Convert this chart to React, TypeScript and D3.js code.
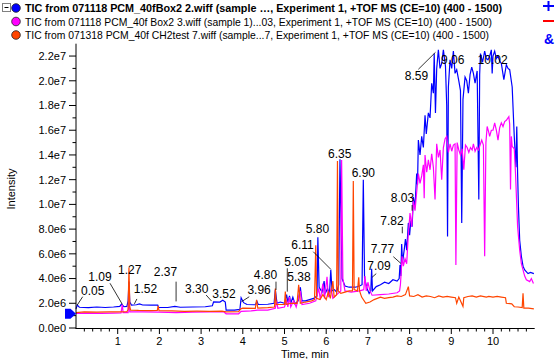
import { useMemo } from "react";
import * as d3 from "d3";

// values are in millions of counts, times in minutes
const UNIT = 1e6;

const blueTIC: [number, number][] = [
  [0.0, 1.55], [0.03, 1.85], [0.08, 1.68], [0.3, 1.65], [0.5, 1.7], [0.7, 1.66], [0.9, 1.7], [1.05, 1.75],
  [1.09, 1.92], [1.15, 1.72], [1.22, 1.75], [1.25, 2.2], [1.27, 3.75], [1.29, 2.1], [1.33, 1.85], [1.45, 1.88],
  [1.52, 1.95], [1.6, 1.86], [1.8, 1.85], [1.96, 1.86], [1.98, 1.66], [2.2, 1.66], [2.37, 1.75], [2.5, 1.68],
  [2.8, 1.7], [3.1, 1.72], [3.27, 1.8], [3.3, 2.12], [3.45, 2.1], [3.52, 2.25], [3.58, 2.1], [3.6, 1.45],
  [3.8, 1.44], [3.93, 1.5], [3.96, 2.45], [4.02, 2.05], [4.1, 1.9], [4.3, 1.88], [4.34, 2.15], [4.37, 1.9],
  [4.6, 1.92], [4.75, 2.0], [4.78, 3.1], [4.82, 2.0], [4.9, 2.1], [5.0, 2.0], [5.05, 2.7], [5.08, 2.1],
  [5.12, 2.6], [5.15, 2.0], [5.2, 2.5], [5.25, 1.95], [5.33, 2.2], [5.38, 3.3], [5.42, 2.2], [5.5, 2.2],
  [5.6, 2.3], [5.7, 2.4], [5.78, 2.6], [5.8, 7.35], [5.83, 3.3], [5.9, 2.9], [5.95, 3.8], [5.98, 2.8],
  [6.03, 3.2], [6.08, 2.8], [6.11, 4.7], [6.14, 3.0], [6.2, 3.1], [6.25, 2.9], [6.3, 3.5], [6.33, 13.65],
  [6.36, 8.0], [6.38, 4.0], [6.45, 3.4], [6.55, 3.3], [6.7, 3.3], [6.8, 3.4], [6.86, 3.5], [6.89, 12.0],
  [6.92, 4.0], [6.98, 3.2], [7.03, 2.8], [7.07, 3.0], [7.09, 4.8], [7.11, 3.0], [7.2, 3.35], [7.3, 3.5],
  [7.4, 3.7], [7.5, 3.6], [7.6, 3.9], [7.7, 3.8], [7.75, 4.0], [7.77, 5.1], [7.79, 4.2], [7.81, 6.8],
  [7.83, 5.3], [7.87, 6.3], [7.9, 7.2], [7.93, 6.3], [7.97, 8.5], [8.0, 7.5], [8.03, 8.7], [8.06, 8.2],
  [8.09, 10.6], [8.13, 9.8], [8.17, 12.5], [8.19, 11.6], [8.21, 15.2], [8.25, 14.0], [8.29, 15.5], [8.33, 14.6],
  [8.37, 17.2], [8.4, 15.7], [8.45, 17.4], [8.49, 17.0], [8.53, 19.8], [8.57, 19.0], [8.59, 22.2], [8.62, 17.4],
  [8.65, 21.0], [8.69, 22.5], [8.73, 21.0], [8.77, 21.4], [8.81, 22.5], [8.86, 21.2], [8.89, 18.0], [8.91, 7.4],
  [8.93, 19.5], [8.97, 21.7], [9.01, 21.0], [9.05, 22.4], [9.09, 20.6], [9.13, 20.9], [9.18, 20.0], [9.22, 19.2],
  [9.25, 8.5], [9.28, 18.5], [9.33, 20.3], [9.37, 20.0], [9.41, 19.0], [9.45, 20.5], [9.49, 21.1], [9.53, 20.6],
  [9.57, 19.8], [9.62, 20.8], [9.66, 10.4], [9.68, 20.5], [9.7, 22.2], [9.75, 21.5], [9.8, 22.4], [9.84, 21.8],
  [9.88, 21.7], [9.92, 22.0], [9.96, 22.5], [9.98, 20.6], [10.0, 22.0], [10.04, 22.4], [10.08, 21.8], [10.12, 22.0],
  [10.16, 21.6], [10.2, 21.4], [10.26, 20.1], [10.32, 21.3], [10.36, 21.0], [10.4, 20.9], [10.46, 19.5], [10.51, 15.5],
  [10.55, 13.0], [10.57, 16.3], [10.59, 12.5], [10.61, 9.8], [10.64, 7.1], [10.68, 5.8], [10.72, 5.0], [10.76, 4.7],
  [10.84, 4.4], [10.9, 4.5], [10.98, 4.4],
];

const magentaTIC: [number, number][] = [
  [0.0, 1.18], [0.3, 1.2], [0.6, 1.18], [0.9, 1.2], [1.08, 1.22], [1.11, 1.9], [1.13, 1.25], [1.25, 1.25],
  [1.27, 2.5], [1.29, 1.3], [1.6, 1.3], [2.0, 1.28], [2.4, 1.25], [2.8, 1.28], [3.2, 1.3], [3.55, 1.3],
  [3.6, 1.15], [3.9, 1.15], [3.96, 1.35], [4.2, 1.38], [4.35, 1.45], [4.6, 1.45], [4.78, 1.6], [4.81, 2.2],
  [4.84, 1.6], [5.0, 1.7], [5.05, 2.3], [5.08, 1.7], [5.12, 2.5], [5.15, 1.7], [5.22, 2.2], [5.28, 1.7],
  [5.38, 3.0], [5.42, 1.9], [5.6, 2.0], [5.75, 2.2], [5.82, 3.2], [5.86, 2.3], [5.92, 3.6], [5.96, 2.4],
  [6.02, 4.15], [6.05, 2.5], [6.12, 3.2], [6.16, 2.4], [6.22, 2.6], [6.35, 3.0], [6.37, 13.6], [6.4, 4.0],
  [6.45, 3.0], [6.6, 2.9], [6.8, 3.0], [6.9, 3.1], [6.93, 4.2], [6.96, 3.0], [7.0, 3.7], [7.05, 3.0],
  [7.1, 2.65], [7.3, 2.7], [7.5, 2.75], [7.7, 2.85], [7.76, 3.0], [7.78, 3.5], [7.8, 4.6], [7.82, 5.8],
  [7.85, 5.0], [7.89, 5.6], [7.93, 5.2], [7.97, 7.6], [8.01, 9.3], [8.05, 8.2], [8.09, 10.3], [8.13, 9.5],
  [8.17, 11.0], [8.21, 12.5], [8.25, 11.7], [8.29, 12.3], [8.33, 13.2], [8.35, 10.5], [8.37, 14.0], [8.41, 12.6],
  [8.45, 13.6], [8.49, 12.8], [8.53, 14.1], [8.57, 13.0], [8.61, 10.4], [8.65, 14.9], [8.69, 13.8], [8.73, 14.4],
  [8.77, 12.0], [8.81, 14.6], [8.85, 15.3], [8.89, 15.5], [8.93, 14.2], [8.97, 14.9], [9.01, 14.3], [9.05, 14.8],
  [9.09, 14.9], [9.11, 5.1], [9.14, 15.0], [9.18, 14.4], [9.22, 14.0], [9.26, 14.5], [9.3, 12.8], [9.34, 14.8],
  [9.38, 14.6], [9.42, 14.2], [9.46, 14.6], [9.5, 14.4], [9.53, 14.9], [9.57, 14.3], [9.61, 14.6], [9.65, 14.4],
  [9.69, 14.8], [9.73, 15.2], [9.77, 14.8], [9.8, 5.8], [9.83, 15.0], [9.86, 16.3], [9.9, 15.8], [9.92, 15.5],
  [9.96, 16.0], [10.0, 16.0], [10.04, 16.6], [10.08, 16.0], [10.12, 15.2], [10.16, 16.2], [10.2, 16.6], [10.24, 16.3],
  [10.28, 16.7], [10.32, 16.8], [10.36, 17.0], [10.38, 17.1], [10.4, 16.5], [10.42, 11.2], [10.44, 15.5], [10.46, 14.7],
  [10.51, 14.5], [10.54, 12.5], [10.59, 8.2], [10.64, 6.3], [10.68, 5.2], [10.72, 4.7], [10.76, 4.2], [10.8, 3.9],
  [10.88, 3.75], [10.92, 4.0], [10.97, 3.6],
];

const orangeTIC: [number, number][] = [
  [0.0, 1.25], [0.2, 1.3], [0.5, 1.28], [0.8, 1.3], [1.0, 1.3], [1.22, 1.32], [1.25, 1.5], [1.27, 4.9],
  [1.29, 1.7], [1.31, 1.45], [1.5, 1.42], [1.8, 1.4], [1.95, 1.42], [1.97, 1.8], [1.99, 1.4], [2.3, 1.38],
  [2.6, 1.35], [2.9, 1.36], [3.2, 1.35], [3.5, 1.36], [3.6, 1.3], [3.9, 1.32], [3.95, 1.55], [4.0, 1.6],
  [4.3, 1.58], [4.33, 2.27], [4.36, 1.6], [4.6, 1.65], [4.76, 1.7], [4.78, 3.2], [4.8, 1.9], [4.9, 1.9],
  [5.0, 1.9], [5.02, 2.95], [5.04, 1.9], [5.15, 2.0], [5.3, 2.0], [5.34, 3.5], [5.38, 2.0], [5.5, 2.1],
  [5.65, 2.2], [5.72, 2.3], [5.75, 6.7], [5.77, 2.4], [5.85, 2.3], [5.92, 2.7], [6.0, 2.3], [6.05, 2.9],
  [6.1, 2.4], [6.16, 3.8], [6.19, 2.5], [6.25, 2.7], [6.27, 13.5], [6.29, 3.0], [6.35, 2.8], [6.45, 2.9],
  [6.55, 3.0], [6.63, 3.0], [6.65, 11.9], [6.67, 3.1], [6.75, 3.0], [6.78, 4.1], [6.8, 3.0], [6.85, 2.5],
  [6.95, 2.0], [7.05, 2.1], [7.15, 2.3], [7.3, 2.5], [7.4, 2.4], [7.5, 2.45], [7.6, 2.5], [7.7, 2.6],
  [7.8, 2.55], [7.9, 2.7], [7.97, 3.35], [8.0, 2.6], [8.1, 2.55], [8.2, 2.7], [8.3, 2.5], [8.4, 2.6],
  [8.5, 2.55], [8.6, 2.45], [8.7, 2.6], [8.8, 2.5], [8.9, 2.55], [9.0, 2.5], [9.1, 2.45], [9.13, 2.0],
  [9.18, 2.5], [9.28, 1.75], [9.3, 2.45], [9.4, 2.55], [9.5, 2.6], [9.6, 2.5], [9.7, 2.6], [9.84, 2.5],
  [9.9, 2.55], [10.0, 2.5], [10.1, 2.55], [10.2, 2.5], [10.3, 2.45], [10.32, 2.0], [10.45, 1.95], [10.51, 1.72],
  [10.6, 1.7], [10.7, 1.65], [10.72, 2.8], [10.74, 1.6], [10.85, 1.6], [10.98, 1.55],
];

const seriesNames = [
  "TIC from 071118 PCM_40fBox2 2.wiff (sample …, Experiment 1, +TOF MS (CE=10) (400 - 1500)",
  "TIC from 071118 PCM_40f Box2 3.wiff (sample 1)...03, Experiment 1, +TOF MS (CE=10) (400 - 1500)",
  "TIC from 071318 PCM_40f CH2test 7.wiff (sample...7, Experiment 1, +TOF MS (CE=10) (400 - 1500)",
];
const seriesColors = ["#0000ff", "#ff00ff", "#ff4500"];
const legendWidths = [477, 467, 464];

const xTicks = [1, 2, 3, 4, 5, 6, 7, 8, 9, 10];
const yTicks = [0, 2, 4, 6, 8, 10, 12, 14, 16, 18, 20, 22];

// peak labels: text centre (t, v) and optional leader from (t, v) to (t, v)
const peakLabels: { text: string; t: number; v: number; leader?: [number, number, number, number] }[] = [
  { text: "0.05", t: 0.4, v: 2.99, leader: [0.16, 2.53, 0.03, 1.86] },
  { text: "1.09", t: 0.576, v: 4.15, leader: [0.815, 3.62, 1.11, 1.92] },
  { text: "1.27", t: 1.288, v: 4.69 },
  { text: "1.52", t: 1.667, v: 3.16, leader: [1.46, 2.35, 1.4, 1.95] },
  { text: "2.37", t: 2.146, v: 4.53, leader: [2.4, 3.75, 2.4, 2.15] },
  { text: "3.30", t: 2.894, v: 3.16, leader: [3.12, 2.67, 3.25, 2.18] },
  { text: "3.52", t: 3.55, v: 2.79 },
  { text: "3.96", t: 4.39, v: 3.07, leader: [4.155, 2.53, 3.97, 2.13] },
  { text: "4.80", t: 4.544, v: 4.29, leader: [4.796, 3.75, 4.796, 3.07] },
  { text: "5.05", t: 5.276, v: 5.36, leader: [5.067, 4.83, 5.067, 2.94] },
  { text: "5.38", t: 5.348, v: 4.15 },
  { text: "5.80", t: 5.791, v: 8.01 },
  { text: "6.11", t: 5.432, v: 6.72, leader: [5.69, 6.17, 6.11, 4.75] },
  { text: "6.35", t: 6.324, v: 14.08 },
  { text: "6.90", t: 6.89, v: 12.54 },
  { text: "7.09", t: 7.266, v: 5.06, leader: [7.1, 4.1, 7.2, 4.4] },
  { text: "7.77", t: 7.35, v: 6.43, leader: [7.61, 5.77, 7.79, 5.23] },
  { text: "7.82", t: 7.578, v: 8.66, leader: [7.825, 8.2, 7.825, 7.66] },
  { text: "8.03", t: 7.83, v: 10.52, leader: [8.06, 9.95, 8.06, 9.49] },
  { text: "8.59", t: 8.165, v: 20.39, leader: [8.21, 20.93, 8.62, 22.3] },
  { text: "9.06", t: 9.036, v: 21.68 },
  { text: "10.02", t: 9.99, v: 21.68 },
];

const W = 557;
const H = 359;
const FONT = "'Liberation Sans', Arial, sans-serif";

export default function App() {
  const x = useMemo(() => d3.scaleLinear().domain([0, 11]).range([76, 534.7]), []);
  const y = useMemo(() => d3.scaleLinear().domain([0, 23 * UNIT]).range([328, 43.7]), []);

  const line = d3
    .line<[number, number]>()
    .x((d) => x(d[0]))
    .y((d) => y(d[1] * UNIT));

  const fmt = (v: number) => d3.format(".1e")(v).replace("+", "");
  const xMinor = d3.range(0, 11.01, 0.2).filter((t) => Math.abs(t - Math.round(t)) > 0.01);
  const yMinor = d3.range(1, 23, 2);
  const series = [blueTIC, magentaTIC, orangeTIC];
  const baseY = y(1.15 * UNIT);

  return (
    <svg width={W} height={H} style={{ position: "absolute", left: 0, top: 0, background: "#fff" }} fontFamily={FONT}>
      {/* legend */}
      <rect x={2.5} y={3.5} width={8} height={8} fill="#fff" stroke="#808080" />
      <line x1={4.5} x2={8.5} y1={7.5} y2={7.5} stroke="#000" />
      {seriesNames.map((name, i) => (
        <g key={name}>
          <circle cx={16} cy={8 + i * 13.5} r={4.3} fill={seriesColors[i]} stroke="#202020" strokeWidth={0.8} />
          <text
            x={25}
            y={8 + i * 13.5}
            dy="0.35em"
            fontSize={11.5}
            fontWeight={i === 0 ? "bold" : "normal"}
            fill="#000"
            textLength={legendWidths[i]}
            lengthAdjust="spacingAndGlyphs"
          >
            {name}
          </text>
        </g>
      ))}
      {/* toolbar glyphs */}
      <line x1={543} x2={554} y1={6} y2={6} stroke="#0000ff" strokeWidth={2} />
      <line x1={548.5} x2={548.5} y1={1} y2={11} stroke="#0000ff" strokeWidth={2} />
      <line x1={543} x2={554} y1={21} y2={21} stroke="#ff0000" strokeWidth={2} />
      <text x={549} y={39} dy="0.35em" textAnchor="middle" fontSize={14} fontWeight="bold" fill="#0000ff">&amp;</text>

      {/* traces */}
      {series.map((s, i) => (
        <path key={i} d={line(s) ?? ""} fill="none" stroke={seriesColors[i]} strokeWidth={1.2} strokeLinejoin="miter" />
      ))}

      {/* y axis */}
      <line x1={76} x2={76} y1={y.range()[1]} y2={328.5} stroke="#000" />
      {yTicks.map((v) => (
        <g key={v}>
          <line x1={69} x2={76} y1={y(v * UNIT)} y2={y(v * UNIT)} stroke="#000" />
          <text x={66} y={y(v * UNIT)} dy="0.35em" textAnchor="end" fontSize={11} fill="#000">
            {fmt(v * UNIT)}
          </text>
        </g>
      ))}
      {yMinor.map((v) => (
        <line key={v} x1={72.5} x2={76} y1={y(v * UNIT)} y2={y(v * UNIT)} stroke="#000" />
      ))}
      <text transform={`translate(11,189) rotate(-90)`} textAnchor="middle" dy="0.35em" fontSize={11} fill="#000">
        Intensity
      </text>

      {/* x axis */}
      <line x1={75.5} x2={x(11)} y1={328.5} y2={328.5} stroke="#000" />
      {xTicks.map((t) => (
        <g key={t}>
          <line x1={x(t)} x2={x(t)} y1={328.5} y2={334} stroke="#000" />
          <text x={x(t)} y={341} dy="0.35em" textAnchor="middle" fontSize={11} fill="#000">
            {t}
          </text>
        </g>
      ))}
      {xMinor.map((t) => (
        <line key={t} x1={x(t)} x2={x(t)} y1={328.5} y2={331.5} stroke="#000" />
      ))}
      <text x={305} y={354} dy="0.35em" textAnchor="middle" fontSize={11} fill="#000">
        Time, min
      </text>

      {/* baseline marker */}
      <path
        d={`M65,${baseY - 5}L70.5,${baseY - 5}L76,${baseY}L70.5,${baseY + 5}L65,${baseY + 5}Z`}
        fill="#0000ff"
      />

      {/* peak labels */}
      {peakLabels.map((p) => (
        <g key={p.text}>
          {p.leader && (
            <line
              x1={x(p.leader[0])}
              y1={y(p.leader[1] * UNIT)}
              x2={x(p.leader[2])}
              y2={y(p.leader[3] * UNIT)}
              stroke="#000"
              strokeWidth={0.8}
            />
          )}
          <text x={x(p.t)} y={y(p.v * UNIT)} dy="0.35em" textAnchor="middle" fontSize={12} fill="#000">
            {p.text}
          </text>
        </g>
      ))}
    </svg>
  );
}
